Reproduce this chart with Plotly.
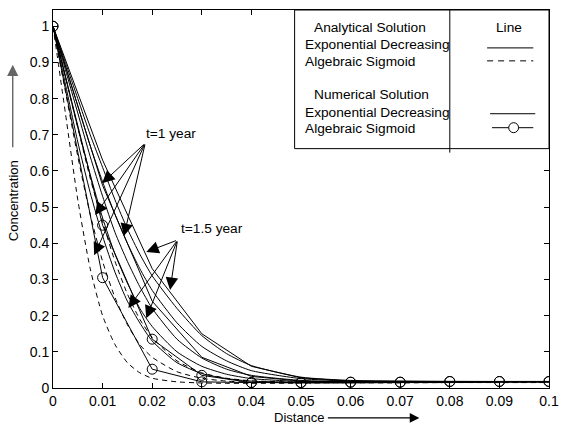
import plotly.graph_objects as go

# ---------------- data ----------------
x_fine = [0, 0.0025, 0.005, 0.0075, 0.01, 0.0125, 0.015, 0.0175, 0.02, 0.025,
          0.03, 0.035, 0.04, 0.05, 0.06, 0.07, 0.08, 0.09, 0.1]

# analytical, algebraic sigmoid (dashed)
sig_an_1 = [1, 0.76, 0.52, 0.33, 0.20, 0.12, 0.07, 0.042, 0.027, 0.017, 0.014, 0.013, 0.013, 0.013, 0.014, 0.014, 0.015, 0.015, 0.015]
sig_an_2 = [1, 0.82, 0.64, 0.48, 0.35, 0.25, 0.175, 0.12, 0.085, 0.045, 0.027, 0.019, 0.016, 0.014, 0.014, 0.015, 0.015, 0.016, 0.016]
sig_an_3 = [1, 0.86, 0.72, 0.58, 0.46, 0.35, 0.26, 0.19, 0.14, 0.075, 0.042, 0.027, 0.02, 0.016, 0.015, 0.015, 0.016, 0.016, 0.016]

# analytical, exponential decreasing (solid)
exp_an_1 = [1, 0.84, 0.68, 0.54, 0.42, 0.32, 0.24, 0.18, 0.13, 0.07, 0.04, 0.026, 0.019, 0.016, 0.015, 0.016, 0.016, 0.017, 0.017]
exp_an_2 = [1, 0.86, 0.72, 0.59, 0.47, 0.37, 0.29, 0.22, 0.17, 0.10, 0.06, 0.038, 0.026, 0.018, 0.016, 0.016, 0.017, 0.017, 0.017]
exp_an_3 = [1, 0.88, 0.76, 0.64, 0.53, 0.43, 0.35, 0.28, 0.22, 0.135, 0.083, 0.052, 0.035, 0.021, 0.017, 0.017, 0.017, 0.018, 0.018]
exp_an_4 = [1, 0.89, 0.78, 0.67, 0.57, 0.48, 0.40, 0.33, 0.27, 0.18, 0.115, 0.075, 0.048, 0.026, 0.019, 0.018, 0.018, 0.018, 0.018]
exp_an_5 = [1, 0.9, 0.8, 0.7, 0.61, 0.52, 0.44, 0.37, 0.31, 0.22, 0.145, 0.095, 0.062, 0.03, 0.021, 0.019, 0.018, 0.018, 0.018]

x_num = [0, 0.01, 0.02, 0.03, 0.04, 0.05, 0.06, 0.07, 0.08, 0.09, 0.1]
# numerical, exponential decreasing (solid polyline)
exp_num_1 = [1, 0.56, 0.24, 0.085, 0.032, 0.019, 0.017, 0.017, 0.018, 0.018, 0.018]
exp_num_2 = [1, 0.63, 0.33, 0.15, 0.06, 0.028, 0.019, 0.018, 0.018, 0.018, 0.018]
# numerical, algebraic sigmoid (circles)
sig_num_1 = [1, 0.45, 0.135, 0.035, 0.015, 0.015, 0.016, 0.016, 0.018, 0.018, 0.018]
sig_num_2 = [1, 0.305, 0.052, 0.017, 0.015, 0.015, 0.016, 0.016, 0.018, 0.018, 0.018]

x_ticks = [0, 0.01, 0.02, 0.03, 0.04, 0.05, 0.06, 0.07, 0.08, 0.09, 0.1]
x_tick_labels = ["0", "0.01", "0.02", "0.03", "0.04", "0.05", "0.06", "0.07", "0.08", "0.09", "0.1"]
y_ticks = [0, 0.1, 0.2, 0.3, 0.4, 0.5, 0.6, 0.7, 0.8, 0.9, 1]
y_tick_labels = ["0", "0.1", "0.2", "0.3", "0.4", "0.5", "0.6", "0.7", "0.8", "0.9", "1"]

# t=1 year arrows (tail, tips) and t=1.5 year arrows, in data units
t1_tail = (0.0186, 0.677)
t1_tips = [(0.0099, 0.566), (0.0085, 0.478), (0.0083, 0.367), (0.0143, 0.420)]
t15_tail = (0.0251, 0.409)
t15_tips = [(0.0188, 0.376), (0.0236, 0.271), (0.0152, 0.221), (0.0188, 0.193)]

# ---------------- figure ----------------
W, H = 568, 427
L, R, T, B = 53, 10, 9, 39
PW, PH = W - L - R, H - T - B
FONT = "Liberation Sans, Arial, Helvetica, sans-serif"
TXT = 13.7


def px(xp):
    return (xp - L) / PW


def py(yp):
    return (H - B - yp) / PH


fig = go.Figure()
blk = dict(color="black", width=1)

for ys in [sig_an_1, sig_an_2, sig_an_3]:
    fig.add_trace(go.Scatter(x=x_fine, y=ys, mode="lines",
                             line=dict(color="black", width=1, dash="5px,4px", shape="spline", smoothing=0.6),
                             showlegend=False))
for ys in [exp_an_1, exp_an_2, exp_an_3, exp_an_4, exp_an_5]:
    fig.add_trace(go.Scatter(x=x_fine, y=ys, mode="lines",
                             line=dict(color="black", width=1, shape="spline", smoothing=0.6),
                             showlegend=False))
for ys in [exp_num_1, exp_num_2]:
    fig.add_trace(go.Scatter(x=x_num, y=ys, mode="lines", line=blk, showlegend=False))
for ys in [sig_num_1, sig_num_2]:
    fig.add_trace(go.Scatter(x=x_num, y=ys, mode="lines+markers", line=blk,
                             marker=dict(symbol="circle-open", size=10, color="black", line=dict(width=1)),
                             showlegend=False))

ann = []
for tip in t1_tips:
    ann.append(dict(x=tip[0], y=tip[1], ax=t1_tail[0], ay=t1_tail[1], xref="x", yref="y",
                    axref="x", ayref="y", showarrow=True, arrowhead=2, arrowsize=2.5,
                    arrowwidth=1, arrowcolor="black", text=""))
for tip in t15_tips:
    ann.append(dict(x=tip[0], y=tip[1], ax=t15_tail[0], ay=t15_tail[1], xref="x", yref="y",
                    axref="x", ayref="y", showarrow=True, arrowhead=2, arrowsize=2.5,
                    arrowwidth=1, arrowcolor="black", text=""))
ann.append(dict(x=px(146), y=py(133), xref="paper", yref="paper", text="t=1 year",
                showarrow=False, xanchor="left", yanchor="middle", font=dict(size=TXT, family=FONT, color="black")))
ann.append(dict(x=px(181), y=py(228), xref="paper", yref="paper", text="t=1.5 year",
                showarrow=False, xanchor="left", yanchor="middle", font=dict(size=TXT, family=FONT, color="black")))

# axis titles with arrows
ann.append(dict(x=px(13), y=py(200), xref="paper", yref="paper", text="Concentration", textangle=-90,
                showarrow=False, xanchor="center", yanchor="middle", font=dict(size=13, family=FONT, color="black")))
ann.append(dict(x=px(12), y=py(64), ax=0, ay=84, xref="paper", yref="paper", axref="pixel", ayref="pixel",
                showarrow=True, arrowhead=2, arrowsize=1.6, arrowwidth=1.4, arrowcolor="#666", text=""))
ann.append(dict(x=px(304), y=py(418), xref="paper", yref="paper", text="Distance",
                showarrow=False, xanchor="center", yanchor="middle", font=dict(size=13, family=FONT, color="black")))
ann.append(dict(x=px(426), y=py(418), ax=-93, ay=0, xref="paper", yref="paper", axref="pixel", ayref="pixel",
                showarrow=True, arrowhead=2, arrowsize=1.6, arrowwidth=1.2, arrowcolor="black", text=""))

# legend box
legend_text = [
    ("Analytical Solution", 317, 27),
    ("Exponential Decreasing", 308, 44),
    ("Algebraic Sigmoid", 308, 61),
    ("Numerical Solution", 317, 94),
    ("Exponential Decreasing", 308, 112),
    ("Algebraic Sigmoid", 308, 128),
]
for txt, xp, yp in legend_text:
    ann.append(dict(x=px(xp), y=py(yp), xref="paper", yref="paper", text=txt, showarrow=False,
                    xanchor="left", yanchor="middle", font=dict(size=TXT, family=FONT, color="black")))
ann.append(dict(x=px(517), y=py(27), xref="paper", yref="paper", text="Line", showarrow=False,
                xanchor="center", yanchor="middle", font=dict(size=TXT, family=FONT, color="black")))

shapes = [
    dict(type="rect", xref="paper", yref="paper", x0=px(299), x1=px(558), y0=py(148), y1=py(9),
         line=dict(color="black", width=1), fillcolor="white", layer="above"),
    dict(type="line", xref="paper", yref="paper", x0=px(457), x1=px(457), y0=py(152), y1=py(9),
         line=dict(color="black", width=1), layer="above"),
    dict(type="line", xref="paper", yref="paper", x0=px(495), x1=px(542), y0=py(47), y1=py(47),
         line=dict(color="black", width=1), layer="above"),
    dict(type="line", xref="paper", yref="paper", x0=px(495), x1=px(542), y0=py(60), y1=py(60),
         line=dict(color="black", width=1, dash="6px,5px"), layer="above"),
    dict(type="line", xref="paper", yref="paper", x0=px(498), x1=px(544), y0=py(113), y1=py(113),
         line=dict(color="black", width=1), layer="above"),
    dict(type="line", xref="paper", yref="paper", x0=px(500), x1=px(542), y0=py(127), y1=py(127),
         line=dict(color="black", width=1), layer="above"),
    dict(type="circle", xref="paper", yref="paper", x0=px(517), x1=px(527), y0=py(132), y1=py(122),
         line=dict(color="black", width=1), fillcolor="white", layer="above"),
]

axis_common = dict(showline=True, linecolor="black", linewidth=1, mirror="ticks", ticks="inside",
                   ticklen=5, tickcolor="black", showgrid=False, zeroline=False,
                   tickfont=dict(size=14, family=FONT, color="black"))

fig.update_layout(
    width=W, height=H,
    margin=dict(l=L, r=R, t=T, b=B),
    paper_bgcolor="white", plot_bgcolor="white",
    xaxis=dict(range=[0, 0.1], tickvals=x_ticks, ticktext=x_tick_labels, **axis_common),
    yaxis=dict(range=[0, 1.045], tickvals=y_ticks, ticktext=y_tick_labels, **axis_common),
    annotations=ann, shapes=shapes, showlegend=False,
)

fig.write_html("out.html")
